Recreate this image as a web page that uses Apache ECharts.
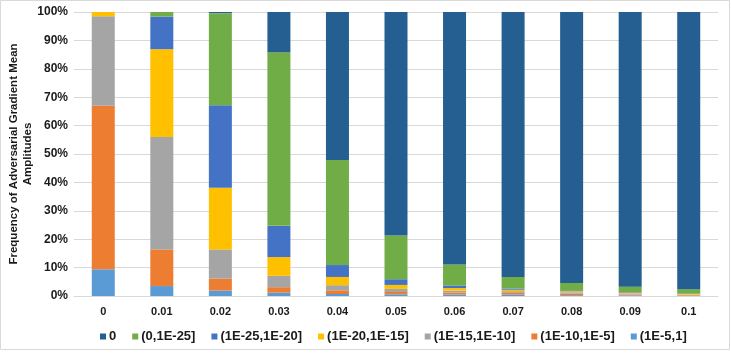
<!DOCTYPE html>
<html>
<head>
<meta charset="utf-8">
<script src="https://cdn.jsdelivr.net/npm/echarts@6/dist/echarts.min.js"></script>
<style>
  html, body { margin: 0; padding: 0; background: #fff; }
  #chart { width: 731px; height: 353px; }
</style>
</head>
<body>
<div id="chart"></div>
<script>
// categories (perturbation size)
var categories = ["0", "0.01", "0.02", "0.03", "0.04", "0.05", "0.06", "0.07", "0.08", "0.09", "0.1"];

// share of each amplitude bucket, in %, bottom of stack first
var bucket_1e5_1 = [9.4, 3.5, 1.9, 1.2, 0.7, 0.6, 0.5, 0.5, 0.3, 0.2, 0.1];
var bucket_1e10_1e5 = [57.6, 12.9, 4.2, 1.9, 1.3, 0.8, 0.7, 0.6, 0.5, 0.3, 0.2];
var bucket_1e15_1e10 = [31.5, 39.6, 10.3, 4.0, 1.8, 1.1, 0.7, 0.6, 0.5, 0.4, 0.2];
var bucket_1e20_1e15 = [1.5, 30.9, 21.7, 6.6, 2.9, 1.4, 0.9, 0.5, 0.4, 0.3, 0.2];
var bucket_1e25_1e20 = [0, 11.5, 29.1, 11.0, 4.2, 2.0, 0.9, 0.4, 0.3, 0.2, 0.1];
var bucket_0_1e25 = [0, 1.6, 32.4, 61.1, 37.0, 15.4, 7.4, 4.1, 2.6, 1.9, 1.6];
var bucket_zero = [0, 0, 0.4, 14.2, 52.1, 78.7, 88.9, 93.3, 95.4, 96.7, 97.6];

var seriesNames = ["(1E-5,1]", "(1E-10,1E-5]", "(1E-15,1E-10]", "(1E-20,1E-15]", "(1E-25,1E-20]", "(0,1E-25]", "0"];
var seriesData = [bucket_1e5_1, bucket_1e10_1e5, bucket_1e15_1e10, bucket_1e20_1e15, bucket_1e25_1e20, bucket_0_1e25, bucket_zero];
var colors = ["#5B9BD5", "#ED7D31", "#A5A5A5", "#FFC000", "#4472C4", "#70AD47", "#255E91"];

var yTicks = [0, 10, 20, 30, 40, 50, 60, 70, 80, 90, 100];

var fontFam = "'Liberation Sans', Arial, sans-serif";

var series = [];
for (var i = 0; i < seriesNames.length; i++) {
  series.push({
    name: seriesNames[i],
    type: "bar",
    stack: "total",
    barWidth: 23,
    itemStyle: { color: colors[i] },
    data: seriesData[i]
  });
}

var option = {
  backgroundColor: "#fff",
  animation: false,
  color: colors,
  grid: { left: 74, right: 13, top: 12, bottom: 57 },
  xAxis: {
    type: "category",
    data: categories,
    axisLine: { lineStyle: { color: "#d9d9d9" } },
    axisTick: { show: false },
    axisLabel: {
      margin: 10,
      color: "#1a1a1a",
      fontWeight: "bold",
      fontSize: 11,
      fontFamily: fontFam
    }
  },
  yAxis: {
    type: "value",
    min: yTicks[0],
    max: yTicks[yTicks.length - 1],
    interval: 10,
    axisLine: { show: false },
    axisTick: { show: false },
    splitLine: { lineStyle: { color: "#d9d9d9" } },
    axisLabel: {
      margin: 6,
      formatter: "{value}%",
      color: "#1a1a1a",
      fontWeight: "bold",
      fontSize: 12,
      fontFamily: fontFam
    }
  },
  legend: {
    // legend reads top stack bucket first
    data: seriesNames.slice().reverse(),
    left: 95,
    top: 325,
    icon: "rect",
    itemWidth: 6,
    itemHeight: 6,
    itemGap: 16,
    textStyle: {
      padding: [0, 0, 0, -2],
      color: "#1a1a1a",
      fontWeight: "bold",
      fontSize: 13,
      fontFamily: fontFam
    }
  },
  graphic: [
    {
      type: "rect",
      shape: { x: 0.5, y: 0.5, width: 729, height: 349 },
      style: { fill: null, stroke: "#d9d9d9", lineWidth: 1 },
      silent: true
    },
    {
      type: "text",
      x: 21,
      y: 154,
      rotation: Math.PI / 2,
      style: {
        text: "Frequency of Adversarial Gradient Mean\nAmplitudes",
        align: "center",
        verticalAlign: "middle",
        lineHeight: 14,
        fill: "#1a1a1a",
        font: "bold 11.5px " + fontFam
      }
    }
  ],
  series: series
};

var myChart = echarts.init(document.getElementById("chart"));
myChart.setOption(option);
</script>
</body>
</html>
